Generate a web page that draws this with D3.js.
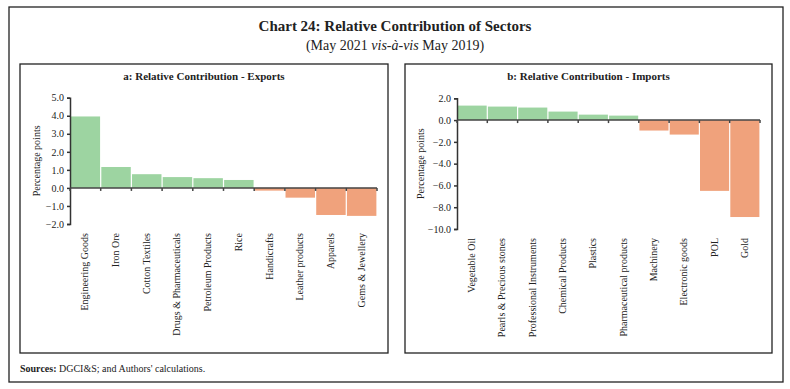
<!DOCTYPE html>
<html><head><meta charset="utf-8">
<script src="https://cdn.jsdelivr.net/npm/d3@7"></script>
<style>body{margin:0;background:#fff;} svg{display:block;font-family:"Liberation Serif","DejaVu Serif",serif;}</style>
</head><body><svg id="c" width="790" height="389"></svg>
<script>
const exportCategories = ["Engineering Goods","Iron Ore","Cotton Textiles","Drugs & Pharmaceuticals","Petroleum Products","Rice","Handicrafts","Leather products","Apparels","Gems & Jewellery"];
const exportValues = [3.96,1.16,0.76,0.6,0.54,0.44,-0.15,-0.54,-1.5,-1.55];
const exportTicks = [-2,-1,0,1,2,3,4,5];
const importCategories = ["Vegetable Oil","Pearls & Precious stones","Professional Instruments","Chemical Products","Plastics","Pharmaceutical products","Machinery","Electronic goods","POL","Gold"];
const importValues = [1.33,1.24,1.15,0.78,0.5,0.41,-0.96,-1.33,-6.5,-8.9];
const importTicks = [-10,-8,-6,-4,-2,0,2];

const svg = d3.select("#c");
const green = "#9dd4a1", orange = "#f0a27c";

svg.append("rect").attr("x",9).attr("y",7).attr("width",774).attr("height",375).attr("fill","none").attr("stroke","#222").attr("stroke-width",1.3);
svg.append("text").attr("x",395).attr("y",31).attr("text-anchor","middle").attr("font-size",15).attr("font-weight","bold").attr("fill","#222").text("Chart 24: Relative Contribution of Sectors");
const st = svg.append("text").attr("x",395).attr("y",50).attr("text-anchor","middle").attr("font-size",14).attr("fill","#222");
st.append("tspan").text("(May 2021 ");
st.append("tspan").attr("font-style","italic").text("vis-à-vis");
st.append("tspan").text(" May 2019)");

const src = svg.append("text").attr("x",20).attr("y",372).attr("font-size",10).attr("fill","#222");
src.append("tspan").attr("font-weight","bold").text("Sources: ");
src.append("tspan").text("DGCI&S; and Authors' calculations.");

function panel(o){
  const g = svg.append("g");
  g.append("rect").attr("x",o.px).attr("y",64).attr("width",o.pw).attr("height",289).attr("fill","none").attr("stroke","#222").attr("stroke-width",1.3);
  g.append("text").attr("x",o.px+o.pw/2).attr("y",80).attr("text-anchor","middle").attr("font-size",11).attr("font-weight","bold").attr("fill","#222").text(o.title);
  const x = d3.scaleBand().domain(o.cats).range([o.x0,o.x1]).paddingInner(0.04).paddingOuter(0.02);
  const y = d3.scaleLinear().domain(o.dom).range([o.yb,o.yt]);
  g.selectAll("rect.bar").data(o.vals).join("rect").attr("class","bar")
    .attr("x",(d,i)=>x(o.cats[i])).attr("width",x.bandwidth())
    .attr("y",d=>y(Math.max(0,d))).attr("height",d=>Math.abs(y(d)-y(0)))
    .attr("fill",d=>d>=0?green:orange);
  const ya = g.append("g").attr("transform",`translate(${o.x0},0)`).call(d3.axisLeft(y).tickValues(o.ticks).tickSize(3).tickFormat(d3.format(".1f")));
  ya.selectAll("text").attr("font-size",10).attr("font-family","Liberation Serif").attr("fill","#222");
  ya.select(".domain").attr("stroke","#333").attr("stroke-width",1.5);
  ya.selectAll("line").attr("stroke","#333").attr("stroke-width",1.5);
  // x axis at zero
  const xa = g.append("g").attr("transform",`translate(0,${y(0)})`);
  xa.append("line").attr("x1",o.x0).attr("x2",o.x1).attr("stroke","#444").attr("stroke-width",1.5);
  const bounds = o.cats.map(c=>x(c)-x.step()*x.paddingInner()/2).concat([o.x1]);
  xa.selectAll("line.t").data(bounds).join("line").attr("class","t").attr("x1",d=>d).attr("x2",d=>d).attr("y1",0).attr("y2",3).attr("stroke","#444").attr("stroke-width",1.5);
  g.selectAll("text.cat").data(o.cats).join("text").attr("class","cat")
    .attr("transform",d=>`translate(${x(d)+x.bandwidth()/2+3},${o.yb+9}) rotate(-90)`)
    .attr("text-anchor","end").attr("font-size",10).attr("fill","#222").text(d=>d);
  g.append("text").attr("transform",`translate(${o.lx},${(o.yt+o.yb)/2}) rotate(-90)`).attr("text-anchor","middle").attr("font-size",10).attr("fill","#222").text("Percentage points");
}
panel({px:20,pw:368,title:"a: Relative Contribution - Exports",cats:exportCategories,vals:exportValues,ticks:exportTicks,dom:[-2,5],x0:70,x1:377,yt:97.7,yb:224,lx:40});
panel({px:405,pw:367,title:"b: Relative Contribution - Imports",cats:importCategories,vals:importValues,ticks:importTicks,dom:[-10,2],x0:457,x1:760,yt:98.3,yb:229,lx:424});
</script></body></html>
